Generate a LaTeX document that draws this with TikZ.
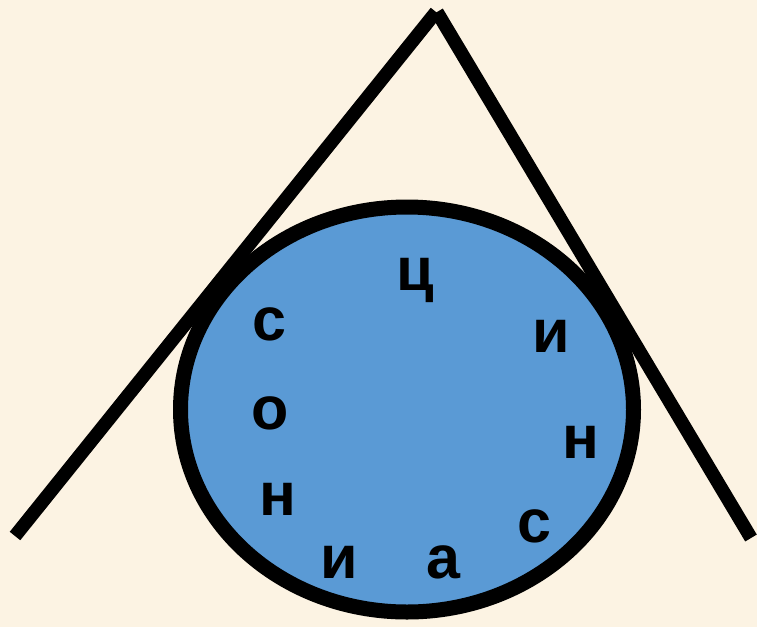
\documentclass[tikz,border=0pt]{standalone}
\usepackage{fontspec}
\setmainfont{Liberation Sans}
\usetikzlibrary{shapes.geometric}
\definecolor{bgcream}{HTML}{FCF3E3}
\definecolor{circblue}{HTML}{5A9AD5}
\tikzset{
  letter/.style={anchor=base, inner sep=0pt, font=\fontsize{61}{61}\selectfont\bfseries},
  thickline/.style={line width=13.5pt, line cap=butt, black},
  bigoval/.style={ellipse, draw=black, line width=15pt, fill=circblue, minimum width=453pt, minimum height=405pt, inner sep=0pt},
}
\begin{document}
\begin{tikzpicture}[x=1pt,y=-1pt]
\fill[bgcream] (0,0) rectangle (757,627);
\useasboundingbox (0,0) rectangle (757,627);
\coordinate (apexL) at (436,12);
\coordinate (apexR) at (437,12);
\coordinate (footL) at (15,536);
\coordinate (footR) at (751,538);
\draw[thickline] (footL) -- (apexL);
\draw[thickline] (apexR) -- (footR);
\node[bigoval] (oval) at (407,409.5) {};
\node[letter] (l1) at (415,290) {ц};
\node[letter] (l2) at (551,352) {и};
\node[letter] (l3) at (581,458) {н};
\node[letter] (l4) at (534,542) {с};
\node[letter] (l5) at (443,578) {а};
\node[letter] (l6) at (339,578) {и};
\node[letter] (l7) at (278,515) {н};
\node[letter] (l8) at (270,429) {о};
\node[letter] (l9) at (269,340) {с};
\end{tikzpicture}
\end{document}
